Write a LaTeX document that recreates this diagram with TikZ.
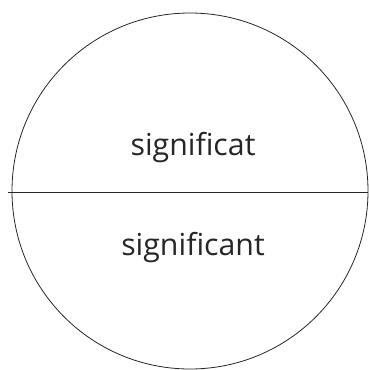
\documentclass[tikz,border=0pt]{standalone}
\usepackage{fontspec}
\setmainfont{Open Sans}
\begin{document}
\begin{tikzpicture}[x=1pt,y=-1pt,
  lbl/.style={font=\fontsize{30.3}{31}\selectfont, text=black!85, anchor=base, inner sep=0pt},
  edge/.style={draw=black!85, line width=0.8pt}]
\useasboundingbox (0,0) rectangle (368,370);
\node[edge, circle, minimum size=356pt, inner sep=0pt] (c) at (190,191) {};
\coordinate (l) at (8,192.5);
\coordinate (r) at (368,192.5);
\draw[edge] (l) -- (r);
\node[lbl] (t1) at (193,155) {significat};
\node[lbl] (t2) at (193,255.5) {significant};
\end{tikzpicture}
\end{document}
